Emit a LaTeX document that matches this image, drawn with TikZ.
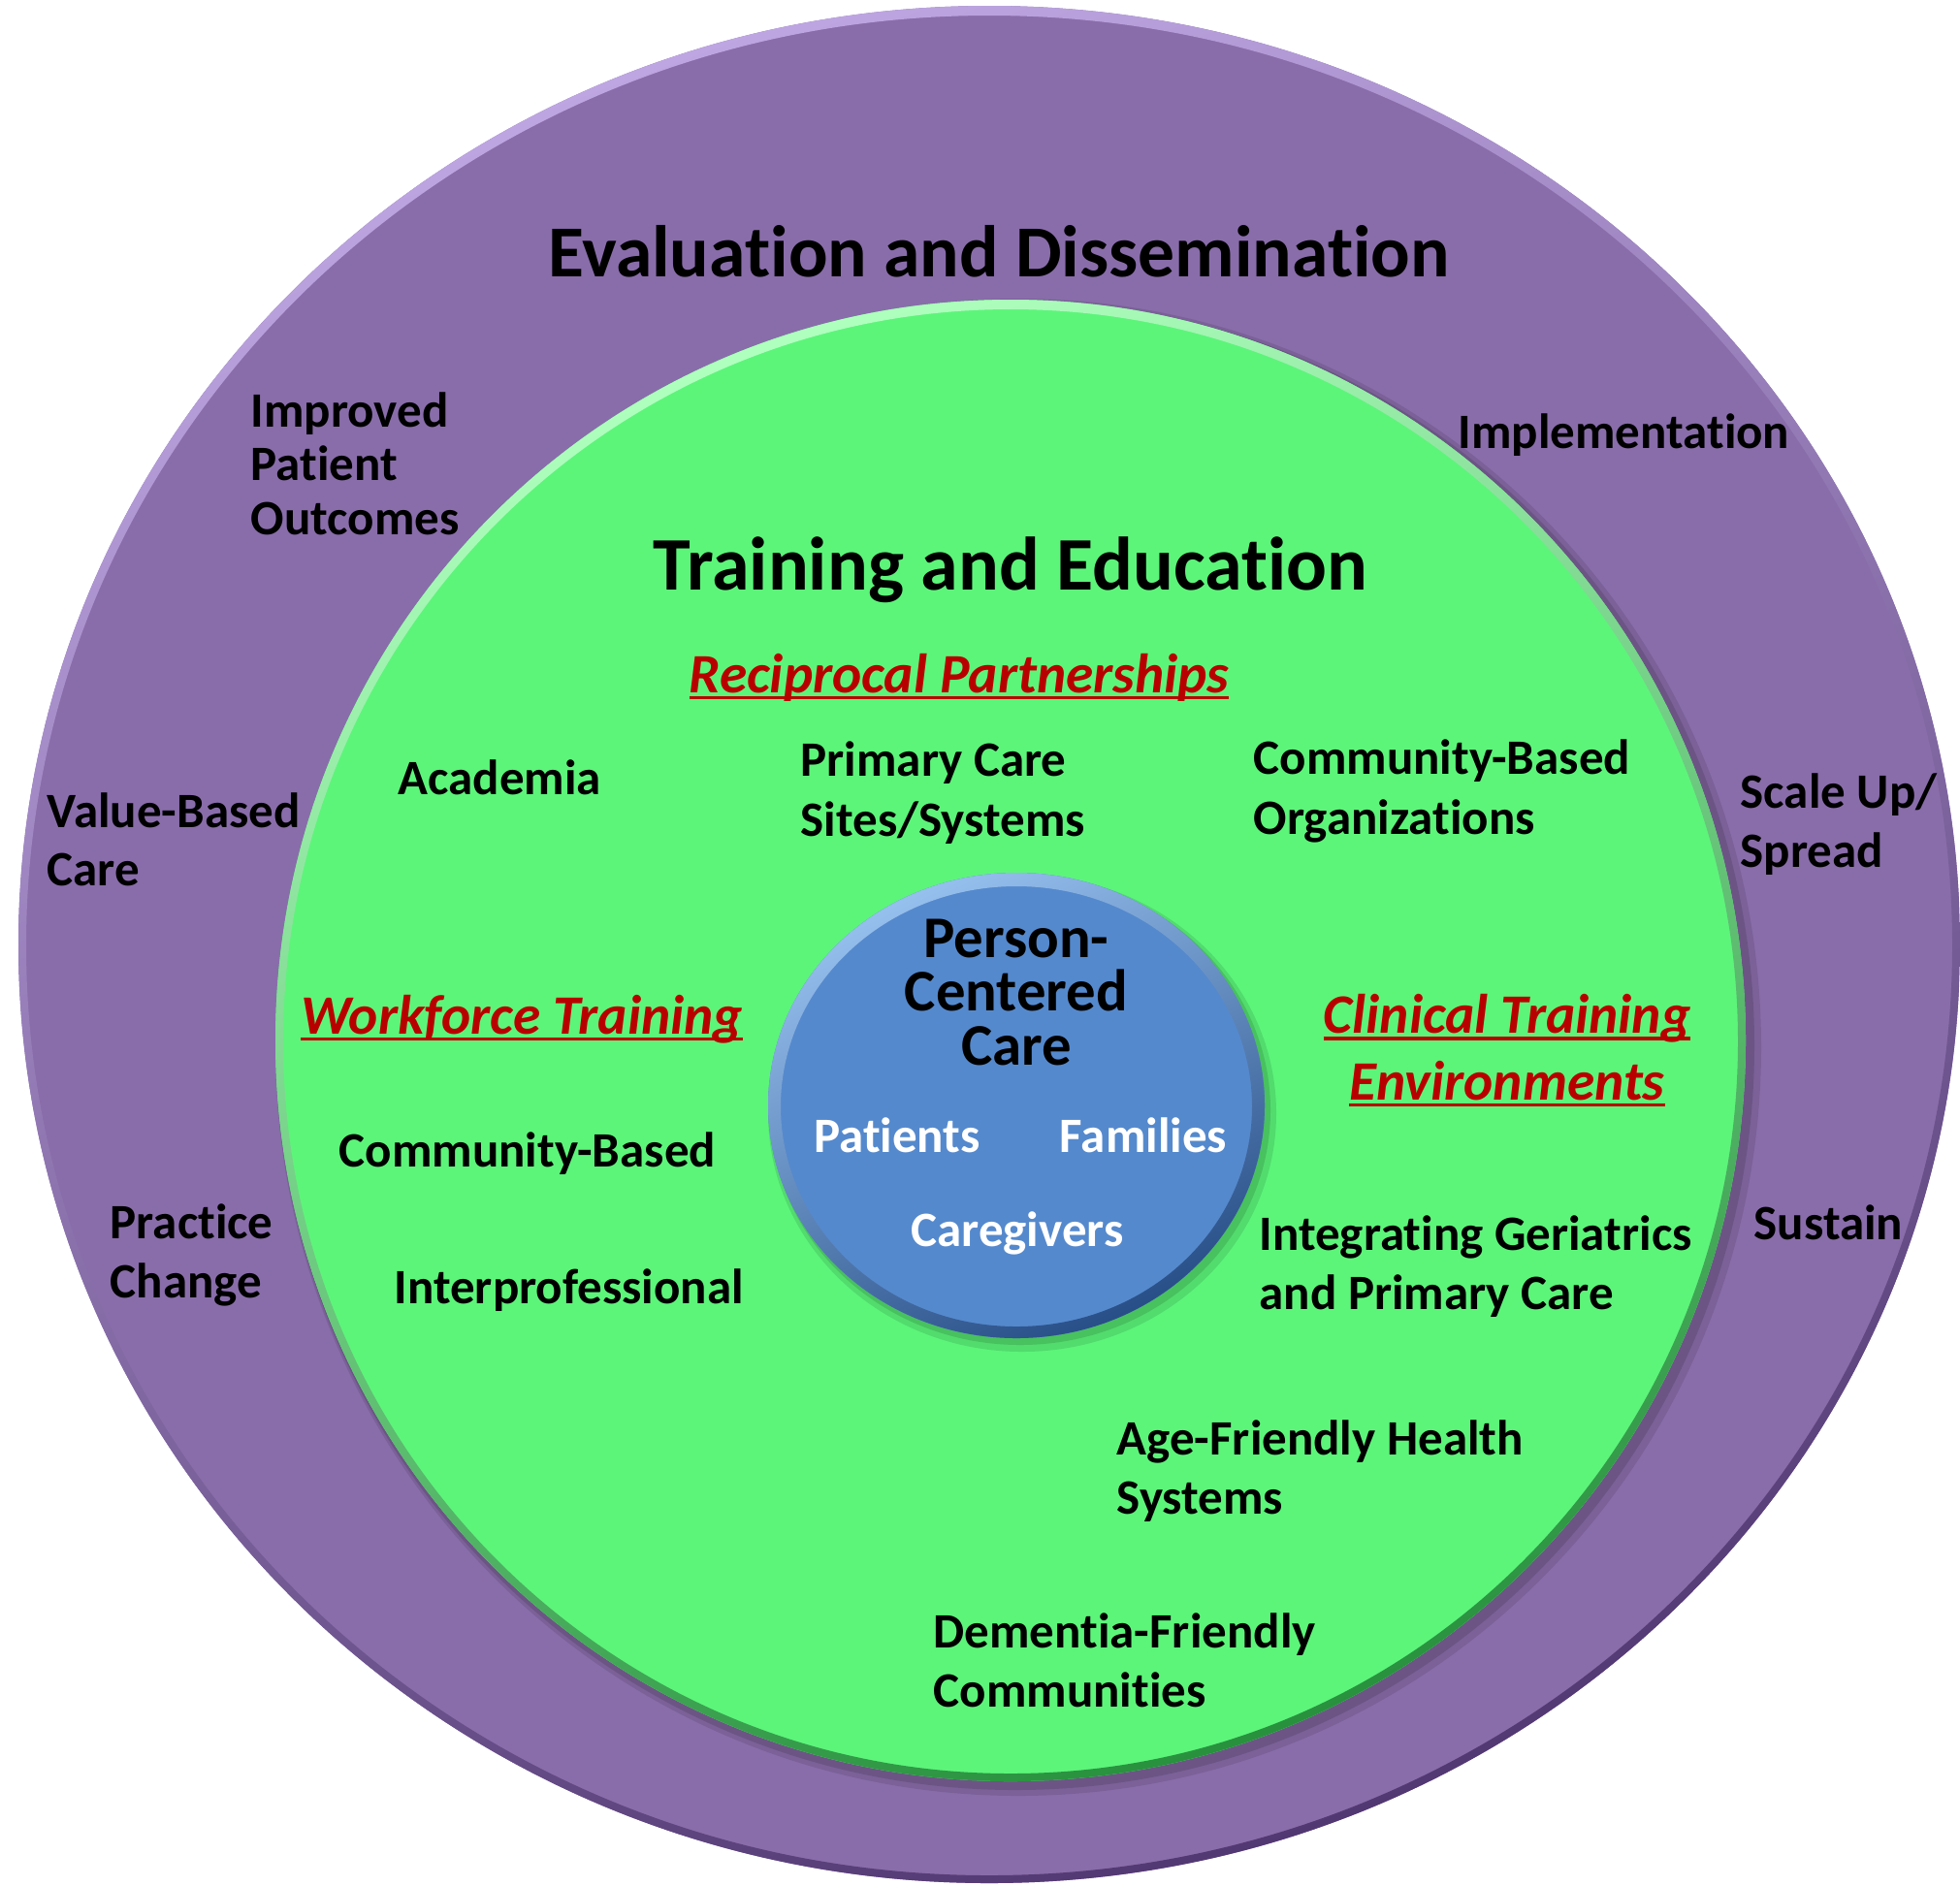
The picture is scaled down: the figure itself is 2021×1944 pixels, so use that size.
\documentclass[tikz,border=0pt]{standalone}
\usepackage{fontspec}
\setmainfont{Carlito}[Ligatures=NoCommon]
\definecolor{pur}{RGB}{137,109,170}
\definecolor{purlight}{RGB}{190,166,226}
\definecolor{purdark}{RGB}{82,56,114}
\definecolor{grn}{RGB}{92,245,122}
\definecolor{grnlight}{RGB}{175,255,190}
\definecolor{grndark}{RGB}{40,145,62}
\definecolor{blu}{RGB}{85,137,205}
\definecolor{blulight}{RGB}{150,192,238}
\definecolor{bludark}{RGB}{40,78,135}
\definecolor{redtxt}{RGB}{185,0,0}
\newcommand\myul[1]{\setbox0=\hbox{#1}\rlap{\rule[-0.13em]{\wd0}{0.065em}}\box0}
\tikzset{
  lbl/.style={inner sep=0pt, align=left, anchor=base west, font=\fontsize{14.5}{17.2}\selectfont\bfseries},
  ttl/.style={inner sep=0pt, anchor=base, font=\fontsize{21.5}{25}\selectfont\bfseries},
  redlbl/.style={inner sep=0pt, anchor=base, align=center, text=redtxt, font=\fontsize{16.3}{19.6}\selectfont\bfseries\itshape},
  corettl/.style={inner sep=0pt, anchor=base, align=center, font=\fontsize{17.3}{15.65}\selectfont\bfseries},
  corelbl/.style={inner sep=0pt, anchor=base, text=white, font=\fontsize{14.5}{17}\selectfont\bfseries},
}
\begin{document}
\begin{tikzpicture}[x=0.01cm,y=-0.01cm]
\useasboundingbox[fill=white] (0,0) rectangle (2021,1944);
% outer ring
\fill[pur] (1020,974) ellipse [x radius=1001, y radius=968];
\shade[even odd rule, top color=purlight, middle color=pur, bottom color=purdark, shading angle=20]
  (1020,974) ellipse [x radius=1001, y radius=968]
  (1020,975) ellipse [x radius=993, y radius=959];
% green shadow
\fill[black, opacity=0.10] (1050,1080) ellipse [x radius=766, y radius=772];
\fill[black, opacity=0.12] (1047,1078) ellipse [x radius=762, y radius=768];
% green disc
\fill[grn] (1042,1073) ellipse [x radius=758, y radius=764];
\shade[even odd rule, top color=grnlight, middle color=grn, bottom color=grndark, shading angle=20]
  (1042,1073) ellipse [x radius=758, y radius=764]
  (1042,1074) ellipse [x radius=750, y radius=755];
% blue shadow
\fill[black, opacity=0.10] (1054,1148) ellipse [x radius=262, y radius=246];
\fill[black, opacity=0.12] (1052,1145) ellipse [x radius=258, y radius=242];
% blue disc
\fill[blu] (1048,1140) ellipse [x radius=256, y radius=240];
\shade[even odd rule, top color=blulight, middle color=blu, bottom color=bludark, shading angle=25]
  (1048,1140) ellipse [x radius=256, y radius=240]
  (1048,1141) ellipse [x radius=243, y radius=227];
% outer ring texts
\node[ttl] (evd) at (1030,285) {Evaluation and Dissemination};
\node[lbl, font=\fontsize{14.5}{15.65}\selectfont\bfseries] (ipo) at (258,551) {Improved\\Patient\\Outcomes};
\node[lbl] (impl) at (1503,462) {Implementation};
\node[lbl, font=\fontsize{14.5}{16.8}\selectfont\bfseries] (vbc) at (48,913) {Value-Based\\Care};
\node[lbl] (prc) at (113,1338) {Practice\\Change};
\node[lbl] (sup) at (1794,894) {Scale Up/\\Spread};
\node[lbl] (sust) at (1808,1278) {Sustain};
% green disc texts
\node[ttl, font=\fontsize{22.2}{26}\selectfont\bfseries] (tae) at (1042,608) {Training and Education};
\node[redlbl] (rp) at (989,714) {\myul{Reciprocal Partnerships}};
\node[lbl] (acad) at (410,819) {Academia};
\node[lbl, font=\fontsize{14.5}{17.6}\selectfont\bfseries] (pcs) at (825,862) {Primary Care\\Sites/Systems};
\node[lbl, font=\fontsize{14.5}{17.6}\selectfont\bfseries] (cbo) at (1292,860) {Community-Based\\Organizations};
\node[redlbl] (wft) at (538,1066) {\myul{Workforce Training}};
\node[redlbl] (cte) at (1554,1134) {\myul{Clinical Training}\\\myul{Environments}};
\node[lbl] (cbl) at (349,1203) {Community-Based};
\node[lbl] (ipf) at (406,1344) {Interprofessional};
\node[lbl] (igp) at (1298,1350) {Integrating Geriatrics\\and Primary Care};
\node[lbl] (afh) at (1151,1561) {Age-Friendly Health\\Systems};
\node[lbl] (dfc) at (962,1760) {Dementia-Friendly\\Communities};
% core texts
\node[corettl] (pcc) at (1048,1098) {Person-\\Centered\\Care};
\node[corelbl] (pat) at (925,1188) {Patients};
\node[corelbl] (fam) at (1179,1188) {Families};
\node[corelbl] (cgv) at (1049,1285) {Caregivers};
\end{tikzpicture}
\end{document}
